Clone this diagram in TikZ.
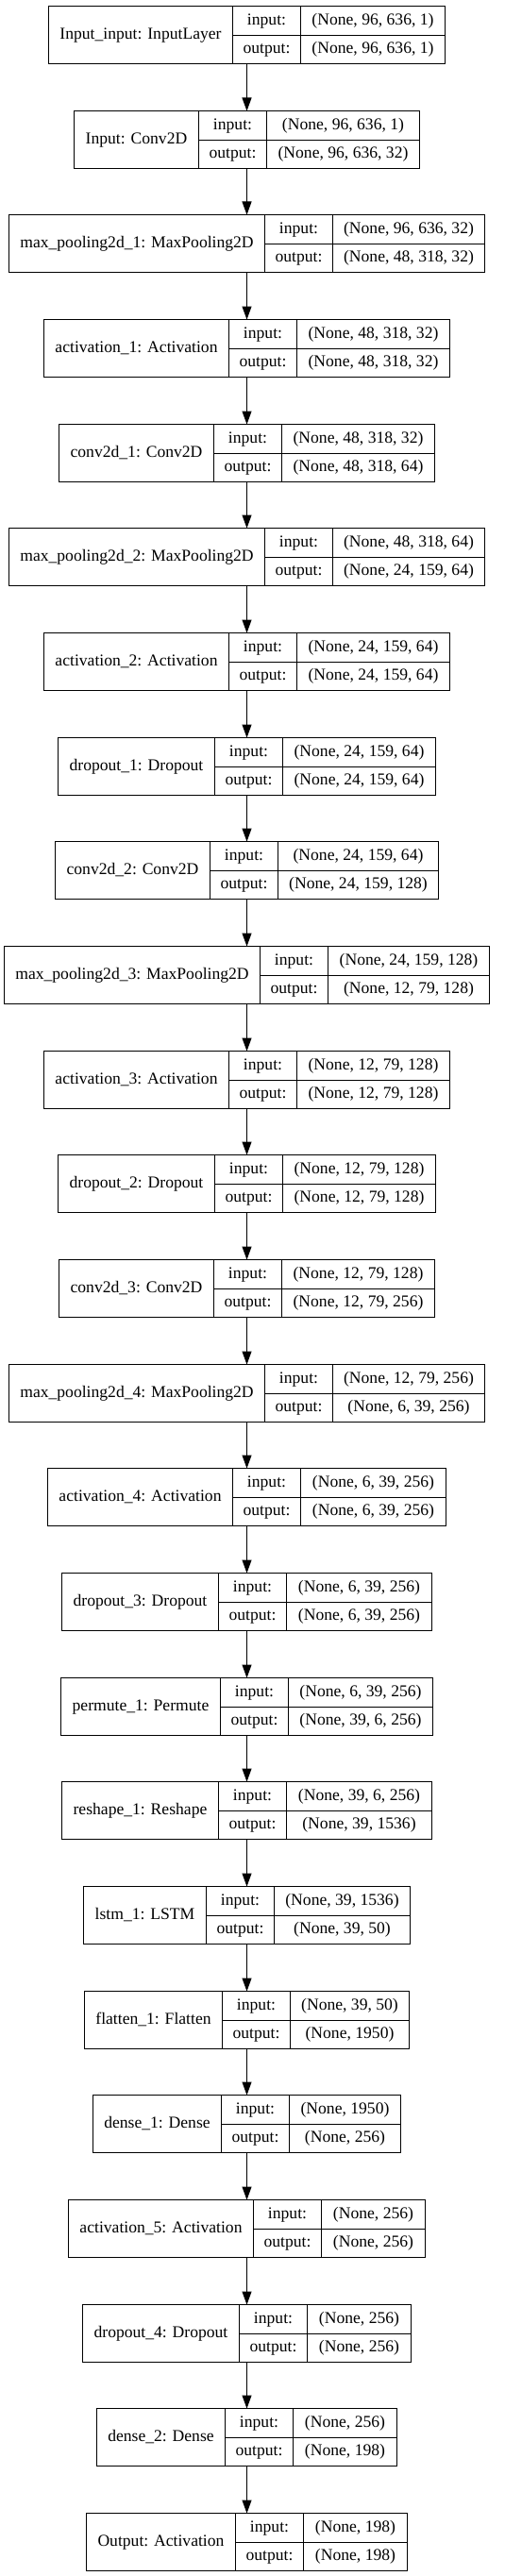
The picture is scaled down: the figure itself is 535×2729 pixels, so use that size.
\documentclass[tikz,border=0pt]{standalone}
\usepackage{fontspec}
\setmainfont{Liberation Serif}
\usetikzlibrary{positioning}
\usetikzlibrary{arrows.meta}

\newcommand{\layfont}{\fontsize{17.6}{21}\selectfont}
\newlength{\wname}
\newlength{\wvala}
\newlength{\wvalb}
% text width, taken outside the picture's null font
\newcommand{\measure}[2]{\pgfinterruptpicture\settowidth{#1}{\layfont #2}%
 \global#1=#1\endpgfinterruptpicture}

\begin{document}
\begin{tikzpicture}[x=1pt,y=1pt,every node/.style={outer sep=0pt},
 box/.style={inner sep=0pt,minimum height=61pt},
 cell/.style={draw,line width=1pt,inner sep=0pt,font=\layfont,
 text height=12.2pt,text depth=3.8pt},
 namecell/.style={cell,minimum height=61pt},
 tagcell/.style={cell,minimum width=72pt},
 flow/.style={line width=1pt,-{Triangle[length=14pt,width=10pt]}}]

 \useasboundingbox (0,0) rectangle (535,-2729);

 \foreach \n/\a/\b [count=\i] in {
  {Input\_input: InputLayer}/{(None, 96, 636, 1)}/{(None, 96, 636, 1)},
  {Input: Conv2D}/{(None, 96, 636, 1)}/{(None, 96, 636, 32)},
  {max\_pooling2d\_1: MaxPooling2D}/{(None, 96, 636, 32)}/{(None, 48, 318, 32)},
  {activation\_1: Activation}/{(None, 48, 318, 32)}/{(None, 48, 318, 32)},
  {conv2d\_1: Conv2D}/{(None, 48, 318, 32)}/{(None, 48, 318, 64)},
  {max\_pooling2d\_2: MaxPooling2D}/{(None, 48, 318, 64)}/{(None, 24, 159, 64)},
  {activation\_2: Activation}/{(None, 24, 159, 64)}/{(None, 24, 159, 64)},
  {dropout\_1: Dropout}/{(None, 24, 159, 64)}/{(None, 24, 159, 64)},
  {conv2d\_2: Conv2D}/{(None, 24, 159, 64)}/{(None, 24, 159, 128)},
  {max\_pooling2d\_3: MaxPooling2D}/{(None, 24, 159, 128)}/{(None, 12, 79, 128)},
  {activation\_3: Activation}/{(None, 12, 79, 128)}/{(None, 12, 79, 128)},
  {dropout\_2: Dropout}/{(None, 12, 79, 128)}/{(None, 12, 79, 128)},
  {conv2d\_3: Conv2D}/{(None, 12, 79, 128)}/{(None, 12, 79, 256)},
  {max\_pooling2d\_4: MaxPooling2D}/{(None, 12, 79, 256)}/{(None, 6, 39, 256)},
  {activation\_4: Activation}/{(None, 6, 39, 256)}/{(None, 6, 39, 256)},
  {dropout\_3: Dropout}/{(None, 6, 39, 256)}/{(None, 6, 39, 256)},
  {permute\_1: Permute}/{(None, 6, 39, 256)}/{(None, 39, 6, 256)},
  {reshape\_1: Reshape}/{(None, 39, 6, 256)}/{(None, 39, 1536)},
  {lstm\_1: LSTM}/{(None, 39, 1536)}/{(None, 39, 50)},
  {flatten\_1: Flatten}/{(None, 39, 50)}/{(None, 1950)},
  {dense\_1: Dense}/{(None, 1950)}/{(None, 256)},
  {activation\_5: Activation}/{(None, 256)}/{(None, 256)},
  {dropout\_4: Dropout}/{(None, 256)}/{(None, 256)},
  {dense\_2: Dense}/{(None, 256)}/{(None, 198)},
  {Output: Activation}/{(None, 198)}/{(None, 198)}}
 {% widths of the three columns, kept on whole pixels
  \measure{\wname}{\n}
  \measure{\wvala}{\a}
  \measure{\wvalb}{\b}
  \pgfmathsetmacro\wn{round(\wname+24)}
  \pgfmathsetmacro\W{2*round((\wn+72+max(\wvala,\wvalb)+24)/2)}
  \pgfmathsetmacro\wv{\W-\wn-72}
  \pgfmathsetmacro\yc{-round(6+110.67*(\i-1))-31}
  \node[box,minimum width=\W pt] (b\i) at (261.5,\yc) {};
  \node[namecell,minimum width=\wn pt,right=0pt of b\i.west] (n\i) {\n};
  \node[tagcell,minimum height=31pt,anchor=north west] (ti\i) at (n\i.north east) {input:};
  \node[tagcell,minimum height=30pt,anchor=south west] (to\i) at (n\i.south east) {output:};
  \node[cell,minimum height=31pt,minimum width=\wv pt,anchor=north west] (vi\i) at (ti\i.north east) {\a};
  \node[cell,minimum height=30pt,minimum width=\wv pt,anchor=south west] (vo\i) at (to\i.south east) {\b};
  \ifnum\i>1
   \pgfmathtruncatemacro\j{\i-1}
   \draw[flow] (b\j.south) -- (b\i.north);
  \fi
 }

\end{tikzpicture}
\end{document}
